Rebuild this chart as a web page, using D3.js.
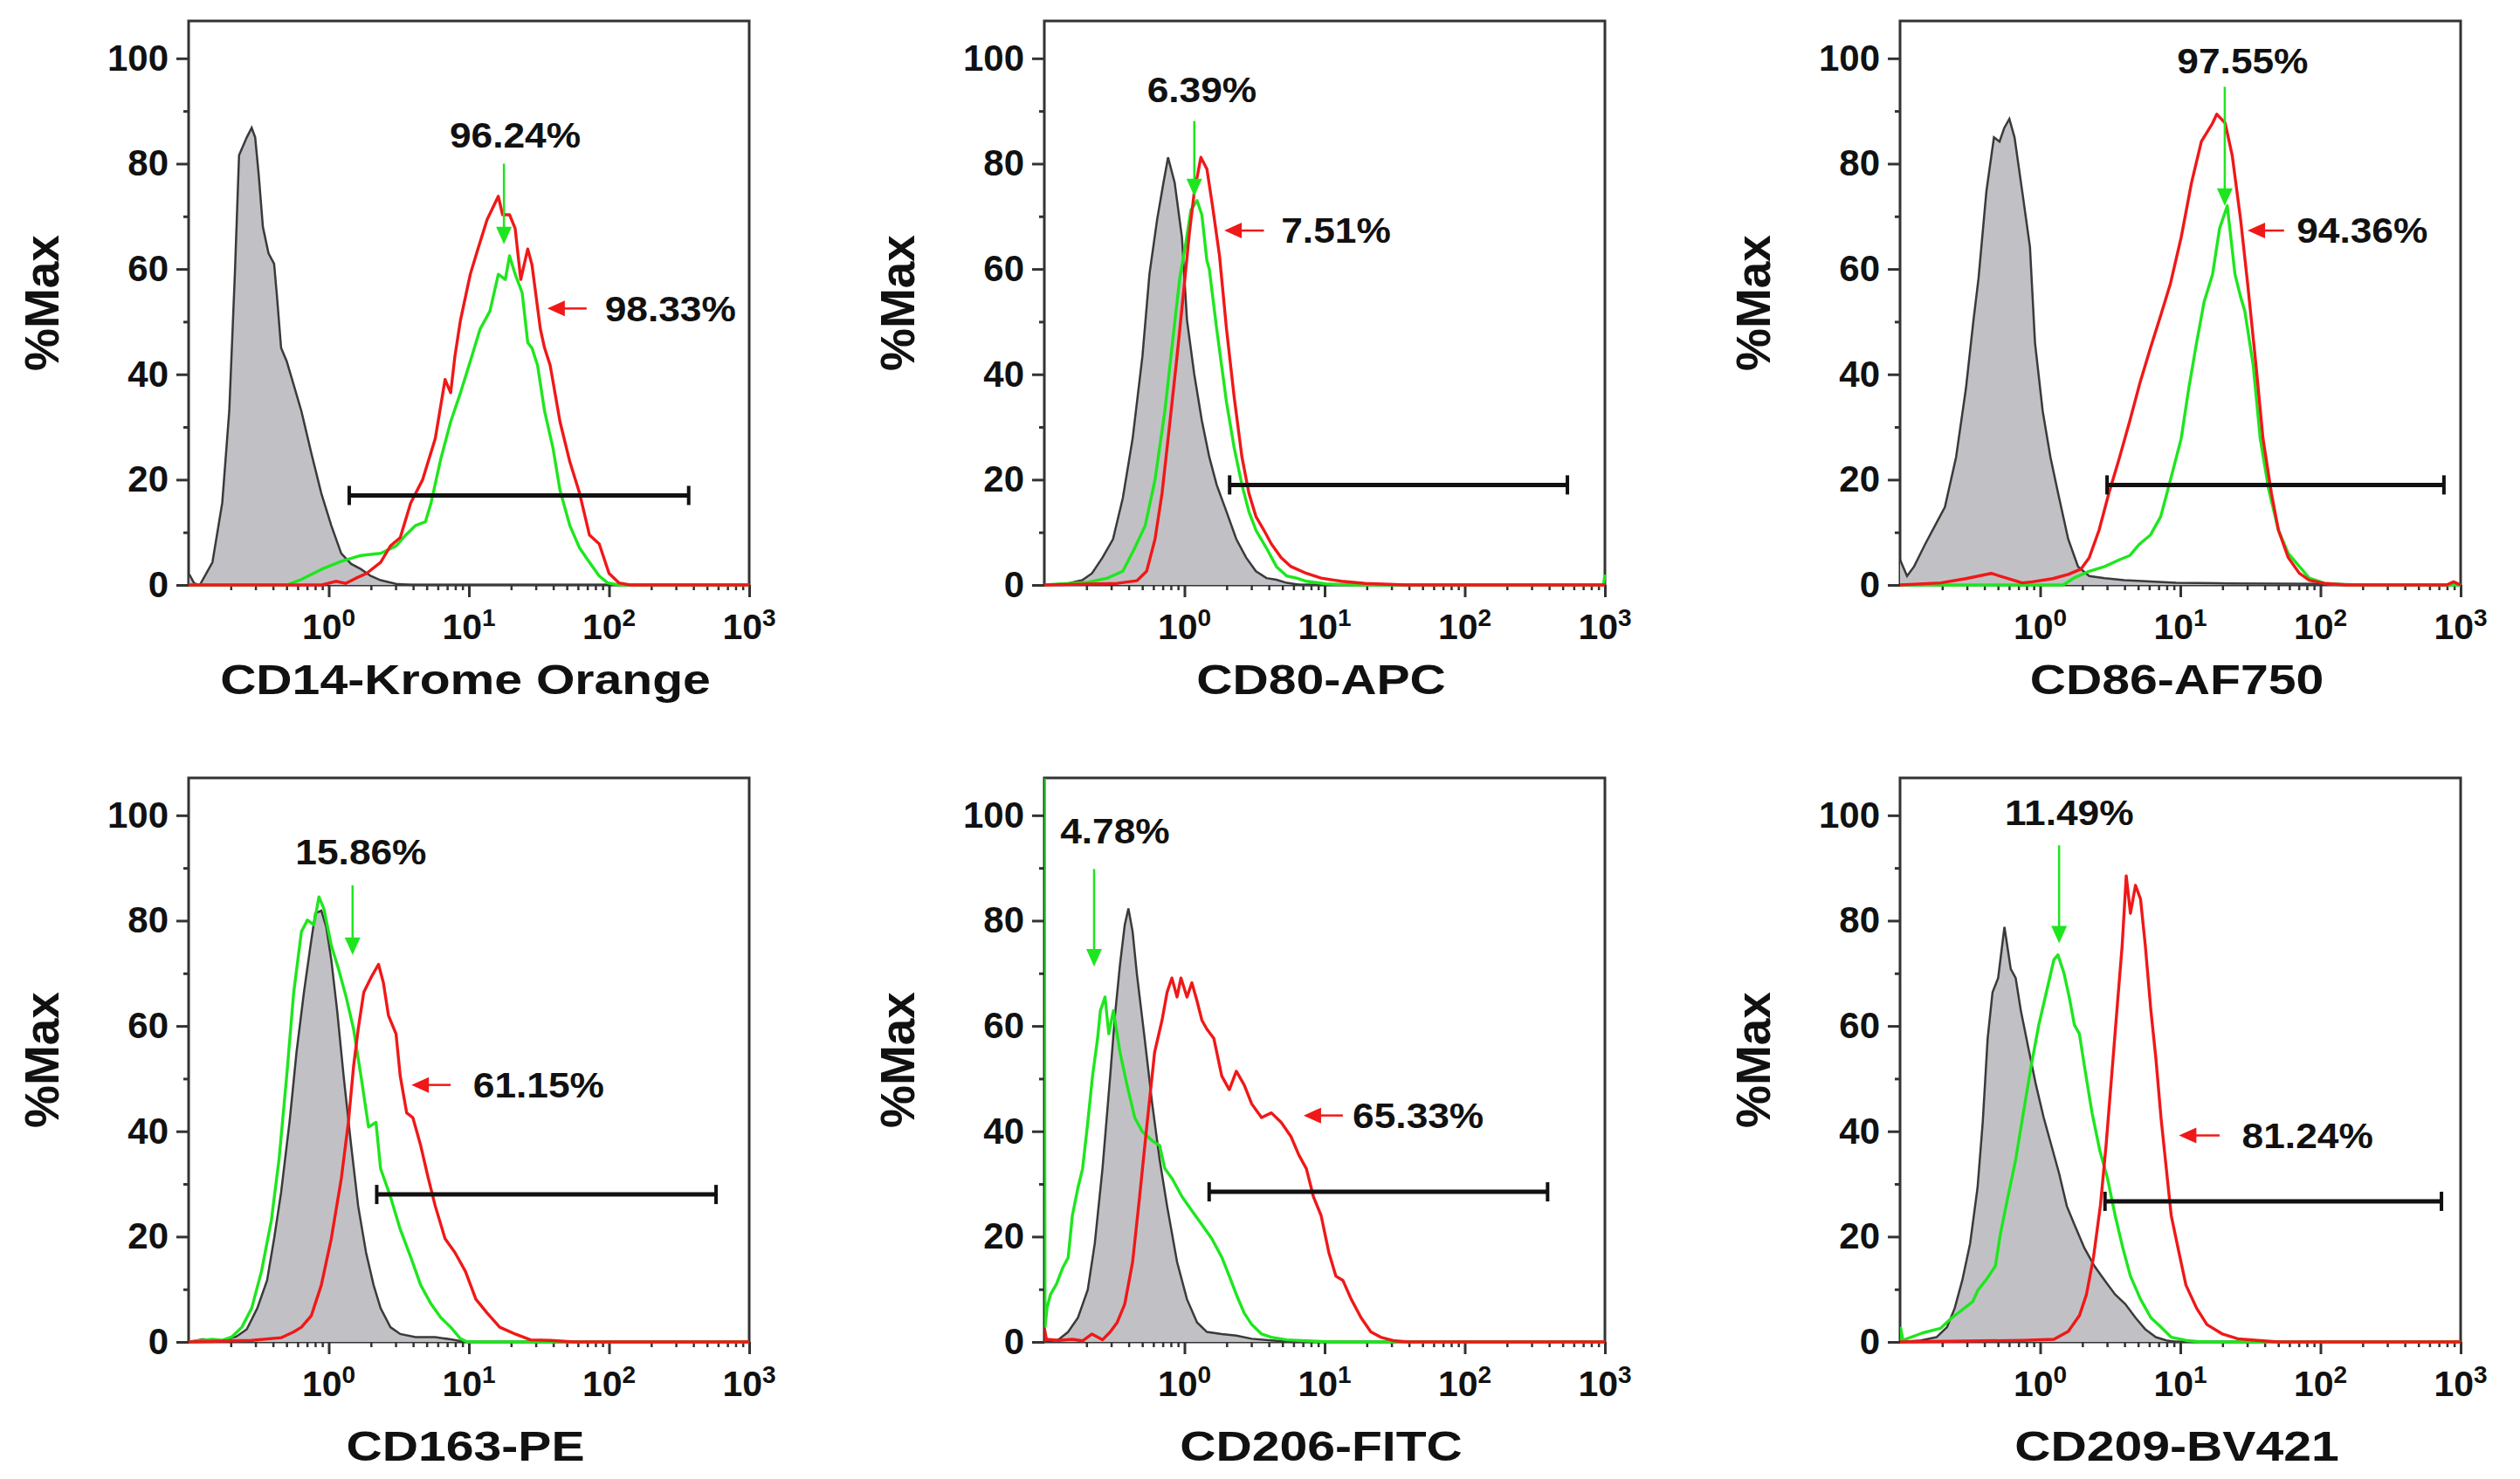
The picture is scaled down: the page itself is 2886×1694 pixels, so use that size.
<!DOCTYPE html>
<html><head><meta charset="utf-8">
<script src="https://cdn.jsdelivr.net/npm/d3@7"></script>
<style>
body{margin:0;background:#fff;}
svg text{font-family:"Liberation Sans",Arial,sans-serif;font-weight:bold;fill:#111;}
</style></head><body>
<svg id="c" width="2886" height="1694"></svg>
<script>
// ---------- categories / labels ----------
const panelTitles = ["CD14-Krome Orange","CD80-APC","CD86-AF750","CD163-PE","CD206-FITC","CD209-BV421"];
const yAxisTitle = "%Max";
const xTickValues = [1,10,100,1000];
const xTickExponents = ["0","1","2","3"];
const xMinorTicks = [0.2,0.3,0.4,0.5,0.6,0.7,0.8,0.9,2,3,4,5,6,7,8,9,20,30,40,50,60,70,80,90,200,300,400,500,600,700,800,900];
const yTickValues = [0,20,40,60,80,100];
const yMinorTicks = [10,30,50,70,90];
const greenLabels = ["96.24%","6.39%","97.55%","15.86%","4.78%","11.49%"];
const redLabels = ["98.33%","7.51%","94.36%","61.15%","65.33%","81.24%"];

// ---------- histogram series: [log10 intensity, %Max] ----------
const cd14Gray = [[-0.995,2],[-0.96,0.3],[-0.92,0],[-0.83,4.3],[-0.76,15.6],[-0.71,33],[-0.67,59],[-0.64,81.6],[-0.585,85],[-0.55,86.8],[-0.525,85],[-0.5,78],[-0.47,68],[-0.43,63],[-0.39,61],[-0.37,55],[-0.34,45],[-0.3,42.5],[-0.25,38],[-0.195,33],[-0.124,25],[-0.053,17.4],[0.018,11.3],[0.089,6],[0.16,4],[0.23,3],[0.3,1.7],[0.37,0.9],[0.48,0.2],[0.585,0],[3,0]];
const cd14Green = [[-1,0],[-0.3,0],[-0.2,1],[-0.05,3],[0.09,4.5],[0.23,5.6],[0.37,6],[0.48,7.4],[0.55,9.5],[0.62,11.3],[0.69,12],[0.73,15.6],[0.8,24],[0.87,31],[0.94,36.5],[1.01,42.5],[1.08,48.6],[1.15,52],[1.21,59],[1.26,58],[1.29,62.5],[1.33,59],[1.38,55.5],[1.42,46],[1.45,45],[1.49,41.7],[1.54,33],[1.6,26],[1.65,18],[1.72,11.3],[1.79,7],[1.86,4.3],[1.93,1.7],[1.99,0.4],[2.07,0],[3,0]];
const cd14Red = [[-1,0],[-0.05,0],[0.05,0.7],[0.12,0.3],[0.195,1.3],[0.27,2.2],[0.37,4.3],[0.44,7.4],[0.51,9],[0.585,15.6],[0.67,20],[0.76,27.8],[0.83,39],[0.87,36.5],[0.9,43.4],[0.94,50.3],[1.01,59],[1.06,63.4],[1.13,69.4],[1.21,73.8],[1.24,70.3],[1.29,70.3],[1.33,67.7],[1.37,58],[1.42,63.8],[1.45,60.8],[1.51,48.6],[1.54,45],[1.58,41.7],[1.65,31],[1.72,23.4],[1.79,17.4],[1.86,9.5],[1.93,7.8],[2.0,2.2],[2.07,0.4],[2.15,0],[3,0]];

const cd80Gray = [[-1,0],[-0.83,0.3],[-0.73,0.9],[-0.66,2.2],[-0.585,5.2],[-0.51,8.7],[-0.44,16.5],[-0.37,27.8],[-0.3,43.4],[-0.25,59],[-0.195,69.4],[-0.15,76.4],[-0.117,81.2],[-0.07,76.4],[-0.018,66],[0.018,50.3],[0.07,40],[0.124,31.2],[0.177,24.3],[0.23,19],[0.3,13.9],[0.37,8.7],[0.44,5.2],[0.51,2.6],[0.585,1.3],[0.656,1],[0.73,0.4],[0.83,0],[3,0]];
const cd80Green = [[-1,0],[-0.69,0.5],[-0.55,1.3],[-0.44,2.6],[-0.355,7],[-0.28,11.3],[-0.21,20],[-0.14,33],[-0.09,45],[-0.035,58],[0.01,65],[0.046,71.2],[0.09,73],[0.124,70.3],[0.16,61.6],[0.177,60],[0.23,48.6],[0.3,34.7],[0.355,26],[0.41,19],[0.46,13.9],[0.51,10.4],[0.585,7],[0.656,3.5],[0.73,1.7],[0.8,1.3],[0.87,0.7],[1.01,0.2],[1.22,0],[2.99,0],[3,2]];
const cd80Red = [[-1,0],[-0.48,0.3],[-0.34,0.8],[-0.27,2.6],[-0.21,8.7],[-0.16,17.4],[-0.106,30.4],[-0.053,43.4],[0,57.3],[0.035,66.8],[0.07,74.6],[0.117,81.2],[0.16,79],[0.2,72],[0.25,62.5],[0.3,48.6],[0.355,35.6],[0.41,24.3],[0.46,17.4],[0.51,13],[0.567,10.4],[0.62,7.8],[0.69,5.2],[0.76,3.5],[0.87,2.2],[0.975,1.3],[1.12,0.7],[1.29,0.3],[1.58,0],[3,0]];

const cd86Gray = [[-1,4.8],[-0.95,1.7],[-0.9,3.5],[-0.82,7.8],[-0.75,11.3],[-0.68,14.8],[-0.6,24.3],[-0.53,37.3],[-0.476,50.3],[-0.44,58.2],[-0.384,74.7],[-0.33,85],[-0.29,84.2],[-0.256,86.8],[-0.22,88.5],[-0.183,85],[-0.128,74.7],[-0.073,64.2],[-0.037,46],[0.018,33],[0.073,24.3],[0.128,17.4],[0.2,8.7],[0.27,3.5],[0.35,1.7],[0.46,1.3],[0.6,0.9],[0.97,0.4],[1.34,0.3],[2.07,0.2],[2.5,0],[3,0]];
const cd86Green = [[-1,0],[0.165,0],[0.24,1.3],[0.35,2.6],[0.46,3.5],[0.567,4.8],[0.64,5.6],[0.71,7.8],[0.787,9.5],[0.86,13],[0.93,20],[1.006,27.8],[1.06,37.3],[1.116,46],[1.17,53.8],[1.23,59],[1.28,67.7],[1.335,72],[1.39,59],[1.43,54.7],[1.46,52],[1.52,41.7],[1.57,27.8],[1.63,18.2],[1.7,10.4],[1.77,6],[1.85,3.5],[1.92,1.3],[2.03,0.3],[2.2,0],[3,0]];
const cd86Red = [[-1,0],[-0.71,0.4],[-0.53,1.2],[-0.35,2.2],[-0.24,1.3],[-0.128,0.4],[-0.055,0.6],[0.09,1.2],[0.2,2],[0.29,3],[0.35,5.2],[0.42,10.4],[0.49,17.4],[0.567,24.3],[0.64,31.2],[0.71,38.2],[0.787,45],[0.86,51.2],[0.93,57.3],[1.006,66],[1.08,76.4],[1.15,84.2],[1.23,87.7],[1.26,89.4],[1.32,87.7],[1.37,81.6],[1.43,69.4],[1.48,57.3],[1.54,41.7],[1.59,27.8],[1.65,17.4],[1.7,10.4],[1.77,5.2],[1.85,2.2],[1.92,0.9],[2.03,0.3],[2.18,0],[2.9,0],[2.95,0.6],[3,0]];

const cd163Gray = [[-1,0],[-0.9,0.5],[-0.76,0.3],[-0.66,1],[-0.585,2.4],[-0.51,6.4],[-0.44,11.7],[-0.39,19.6],[-0.34,28.4],[-0.28,41.7],[-0.23,55],[-0.177,66.4],[-0.13,75.3],[-0.096,81.4],[-0.053,81.9],[-0.018,78.8],[0.018,72.6],[0.06,62.9],[0.106,50.5],[0.16,37.3],[0.21,25.8],[0.266,17],[0.32,10.8],[0.37,6.4],[0.44,2.8],[0.51,1.5],[0.62,0.9],[0.76,0.9],[0.87,0.5],[0.975,0],[3,0]];
const cd163Green = [[-1,0],[-0.83,0.5],[-0.76,0.3],[-0.69,1],[-0.62,2.8],[-0.55,6.4],[-0.48,13.4],[-0.41,23],[-0.355,34.6],[-0.3,50.5],[-0.25,66.4],[-0.195,77.9],[-0.152,80.1],[-0.106,79.2],[-0.07,84.5],[-0.035,82.3],[0.018,75.3],[0.07,70.8],[0.124,65.5],[0.177,59.4],[0.23,50.5],[0.284,40.8],[0.337,41.7],[0.37,32.9],[0.44,27.6],[0.51,21.4],[0.585,16.1],[0.656,10.8],[0.73,7.2],[0.8,4.6],[0.87,2.8],[0.94,0.6],[0.99,0],[3,0]];
const cd163Red = [[-1,0],[-0.55,0.3],[-0.34,0.8],[-0.25,1.9],[-0.195,2.8],[-0.124,5],[-0.053,10.8],[0.018,19.6],[0.09,31.1],[0.14,41.7],[0.177,52.3],[0.21,59.4],[0.25,66.4],[0.3,69.1],[0.355,71.7],[0.39,68.2],[0.426,62],[0.48,58.5],[0.51,50.5],[0.556,43.5],[0.6,42.6],[0.656,37.3],[0.71,31.1],[0.76,25.8],[0.83,19.6],[0.9,17],[0.975,13.4],[1.05,8.1],[1.13,5.5],[1.22,2.8],[1.33,1.5],[1.44,0.4],[1.58,0.3],[1.75,0],[3,0]];

const cd206Gray = [[-1,0],[-0.9,0.4],[-0.83,1.9],[-0.76,4.6],[-0.69,9.9],[-0.64,18.7],[-0.585,32.9],[-0.53,50.5],[-0.496,62],[-0.46,71.7],[-0.426,79.2],[-0.4,82.3],[-0.37,77.9],[-0.34,70],[-0.284,57.6],[-0.23,45.2],[-0.177,34.6],[-0.124,25.8],[-0.053,15.2],[0.018,8.1],[0.09,3.7],[0.16,1.9],[0.266,1.5],[0.37,1.2],[0.48,0.6],[0.62,0.3],[0.76,0],[3,0]];
const cd206Green = [[-1,107],[-0.995,2.8],[-0.98,6.6],[-0.956,9],[-0.913,11],[-0.87,14],[-0.83,16],[-0.8,24],[-0.76,29.3],[-0.727,32.9],[-0.69,41.7],[-0.656,50.5],[-0.62,57.6],[-0.6,62.9],[-0.567,65.5],[-0.54,58.5],[-0.507,62.9],[-0.46,55],[-0.41,48.8],[-0.355,42.6],[-0.3,39.9],[-0.23,38.2],[-0.177,37.3],[-0.14,32.9],[-0.09,31.1],[-0.018,27.6],[0.053,24.9],[0.124,22.3],[0.195,19.6],[0.266,16.1],[0.32,12.5],[0.37,9],[0.426,5.5],[0.48,3.3],[0.55,1.5],[0.62,0.9],[0.73,0.4],[0.87,0.2],[1.05,0],[3,0]];
const cd206Red = [[-1,0],[-0.998,2.4],[-0.985,0.5],[-0.9,0.3],[-0.8,0.5],[-0.727,0.2],[-0.66,1.5],[-0.585,0.4],[-0.53,1.9],[-0.48,3.7],[-0.426,7.2],[-0.37,15.2],[-0.32,27.6],[-0.266,41.7],[-0.213,55],[-0.16,61.1],[-0.124,66.4],[-0.09,69.1],[-0.053,65.5],[-0.025,69.1],[0.018,65.5],[0.053,68.2],[0.09,64.7],[0.124,61.1],[0.16,59.4],[0.21,57.6],[0.266,50.5],[0.32,47.9],[0.37,51.4],[0.426,48.8],[0.48,45.2],[0.55,42.6],[0.62,43.5],[0.69,41.7],[0.76,39],[0.816,35.5],[0.87,32.9],[0.92,27.6],[0.975,24],[1.03,17],[1.08,12.5],[1.13,11.7],[1.19,8.1],[1.26,4.6],[1.33,1.9],[1.4,0.9],[1.5,0.2],[1.6,0],[3,0]];

const cd209Gray = [[-1,0],[-0.85,0.3],[-0.74,0.9],[-0.665,2.8],[-0.61,6.4],[-0.556,11.7],[-0.5,18.7],[-0.447,29.3],[-0.41,41.7],[-0.375,57.6],[-0.34,66.4],[-0.3,69.1],[-0.255,78.8],[-0.21,70.8],[-0.175,69.1],[-0.138,62.9],[-0.084,55.8],[-0.03,48.8],[0.025,42.6],[0.08,37.3],[0.135,32],[0.19,25.8],[0.244,22.3],[0.316,17.8],[0.39,14.3],[0.46,11.7],[0.535,9],[0.607,7.2],[0.68,4.6],[0.75,2.4],[0.825,0.9],[0.9,0.3],[0.97,0],[3,0]];
const cd209Green = [[-1,0],[-0.995,2.6],[-0.98,0.3],[-0.84,1.7],[-0.71,2.6],[-0.63,4.6],[-0.57,5.8],[-0.48,7.7],[-0.445,9.8],[-0.38,12],[-0.32,14.4],[-0.284,20.5],[-0.23,27.6],[-0.175,34.6],[-0.12,43.5],[-0.065,52.3],[-0.01,60.2],[0.044,66.4],[0.098,72.6],[0.127,73.5],[0.17,70],[0.207,65.5],[0.244,60.2],[0.28,58.5],[0.316,52.3],[0.37,43.5],[0.425,36.4],[0.48,31.1],[0.535,24],[0.59,17.8],[0.644,12.5],[0.716,8.1],[0.79,4.6],[0.862,2.8],[0.935,0.9],[1.04,0.3],[1.15,0],[3,0]];
const cd209Red = [[-1,0],[-0.12,0.3],[0.098,0.5],[0.2,2],[0.28,5],[0.33,9],[0.38,16],[0.43,26],[0.47,37.3],[0.51,50.5],[0.55,63.8],[0.585,75.3],[0.614,88.5],[0.644,81.4],[0.68,86.7],[0.716,84.1],[0.75,75.3],[0.79,62.9],[0.825,54],[0.862,42.6],[0.9,32.9],[0.935,24],[0.99,17],[1.04,10.8],[1.116,6.4],[1.19,3.3],[1.3,1.5],[1.41,0.6],[1.55,0.3],[1.7,0],[3,0]];

// ---------- gates and annotations ----------
const gateRanges = [[1.4,370],[2.1,540],[3.0,760],[2.2,580],[1.5,390],[2.9,730]];
const gateLevels = [17,19,19,28,28.5,26.7];
const greenArrowX = [1.25,0.07,1.317,0.17,-0.645,0.135];      // log10
const greenArrowTop = [80,88.1,94.6,86.7,89.8,94.3];
const greenArrowTip = [64.7,73.8,72,73.5,71.3,75.7];
const greenLabelX = [1.33,0.124,1.445,0.23,-0.496,0.207];      // log10, centre
const greenLabelY = [83,91.6,97.2,90.7,94.7,98.2];
const redArrowY = [52.5,67.3,67.3,48.8,43,39.2];
const redArrowFrom = [1.84,0.567,1.74,0.87,1.13,1.28];
const redArrowTip = [1.56,0.284,1.48,0.59,0.85,0.99];
const redLabelX = [1.97,0.69,1.83,1.03,1.2,1.44];

const grays = [cd14Gray,cd80Gray,cd86Gray,cd163Gray,cd206Gray,cd209Gray];
const greens = [cd14Green,cd80Green,cd86Green,cd163Green,cd206Green,cd209Green];
const reds = [cd14Red,cd80Red,cd86Red,cd163Red,cd206Red,cd209Red];

// ---------- layout ----------
const colLefts = [216,1196,2176], rowTops = [24,891];
const W = 642, H = 646;
const titleOffsets = [125,136];
const GREEN = "#1ee61e", RED = "#f01818", GRAYFILL = "#c1c1c5", GRAYLINE = "#3a3a3a", AXIS = "#333";

const svg = d3.select("#c");
const defs = svg.append("defs");

panelTitles.forEach((title,i)=>{
  const col = i%3, row = Math.floor(i/3);
  const L = colLefts[col], T = rowTops[row], B = T+H, R = L+W;
  const x = d3.scaleLog().domain([0.1,1000]).range([L,R]);
  const y = d3.scaleLinear().domain([0,107.1]).range([B,T]);
  const X = e => x(Math.pow(10,e));
  const g = svg.append("g");
  defs.append("clipPath").attr("id","clip"+i).append("rect").attr("x",L).attr("y",T).attr("width",W+2).attr("height",H+2);

  // frame
  g.append("rect").attr("x",L).attr("y",T).attr("width",W).attr("height",H)
    .attr("fill","none").attr("stroke",AXIS).attr("stroke-width",3);

  // y axis
  const ya = g.append("g").attr("transform",`translate(${L},0)`)
    .call(d3.axisLeft(y).tickValues(yTickValues).tickSize(14).tickPadding(9));
  ya.select(".domain").remove();
  ya.selectAll("line").attr("stroke",AXIS).attr("stroke-width",3);
  ya.selectAll("text").style("font-size","42px").attr("fill","#111");
  const yb = g.append("g").attr("transform",`translate(${L},0)`)
    .call(d3.axisLeft(y).tickValues(yMinorTicks).tickSize(6).tickFormat(""));
  yb.select(".domain").remove();
  yb.selectAll("line").attr("stroke",AXIS).attr("stroke-width",3);

  // x axis
  const xa = g.append("g").attr("transform",`translate(0,${B})`)
    .call(d3.axisBottom(x).tickValues(xTickValues).tickSize(14).tickFormat(""));
  xa.select(".domain").remove();
  xa.selectAll("line").attr("stroke",AXIS).attr("stroke-width",3);
  const xb = g.append("g").attr("transform",`translate(0,${B})`)
    .call(d3.axisBottom(x).tickValues(xMinorTicks).tickSize(6).tickFormat(""));
  xb.select(".domain").remove();
  xb.selectAll("line").attr("stroke",AXIS).attr("stroke-width",2.5);
  xTickValues.forEach((v,k)=>{
    const t = g.append("text").attr("x",x(v)).attr("y",B+62).attr("text-anchor","middle").style("font-size","41px");
    t.append("tspan").text("10");
    t.append("tspan").attr("dy",-15).style("font-size","28px").text(xTickExponents[k]);
  });

  // titles
  g.append("text").attr("transform",`translate(${L+W/2-4},${B+titleOffsets[row]}) scale(1.19,1)`)
    .attr("text-anchor","middle").style("font-size","48px").text(title);
  g.append("text").attr("transform",`translate(${L-168},${T+H/2}) rotate(-90)`)
    .attr("text-anchor","middle").attr("dominant-baseline","central").style("font-size","55px").text(yAxisTitle);

  // histograms
  const cg = g.append("g").attr("clip-path",`url(#clip${i})`);
  cg.append("path").datum(grays[i])
    .attr("d",d3.area().x(d=>X(d[0])).y0(B).y1(d=>y(d[1])))
    .attr("fill",GRAYFILL);
  const line = d3.line().x(d=>X(d[0])).y(d=>y(d[1]));
  cg.append("path").datum(grays[i]).attr("d",line).attr("fill","none").attr("stroke",GRAYLINE).attr("stroke-width",2.5);
  cg.append("path").datum(greens[i]).attr("d",line).attr("fill","none").attr("stroke",GREEN).attr("stroke-width",3.4).attr("stroke-linejoin","round");
  cg.append("path").datum(reds[i]).attr("d",line).attr("fill","none").attr("stroke",RED).attr("stroke-width",3.4).attr("stroke-linejoin","round");

  // gate
  const gx1 = x(gateRanges[i][0]), gx2 = x(gateRanges[i][1]), gy = y(gateLevels[i]);
  g.append("line").attr("x1",gx1).attr("x2",gx2).attr("y1",gy).attr("y2",gy).attr("stroke","#111").attr("stroke-width",5);
  [gx1,gx2].forEach(px=>g.append("line").attr("x1",px).attr("x2",px).attr("y1",gy-11).attr("y2",gy+11).attr("stroke","#111").attr("stroke-width",4));

  // green arrow (down)
  const ax = X(greenArrowX[i]), at = y(greenArrowTop[i]), ap = y(greenArrowTip[i]);
  g.append("line").attr("x1",ax).attr("x2",ax).attr("y1",at).attr("y2",ap-14).attr("stroke",GREEN).attr("stroke-width",2.5);
  g.append("path").attr("d",`M${ax-9},${ap-20}L${ax+9},${ap-20}L${ax},${ap}Z`).attr("fill",GREEN);
  g.append("text").attr("transform",`translate(${X(greenLabelX[i])},${y(greenLabelY[i])}) scale(1.08,1)`)
    .attr("text-anchor","middle").style("font-size","41px").text(greenLabels[i]);

  // red arrow (left)
  const rx1 = X(redArrowFrom[i]), rx2 = X(redArrowTip[i]), ry = y(redArrowY[i]);
  g.append("line").attr("x1",rx1).attr("x2",rx2+14).attr("y1",ry).attr("y2",ry).attr("stroke",RED).attr("stroke-width",2.5);
  g.append("path").attr("d",`M${rx2+20},${ry-9}L${rx2+20},${ry+9}L${rx2},${ry}Z`).attr("fill",RED);
  g.append("text").attr("transform",`translate(${X(redLabelX[i])},${ry}) scale(1.08,1)`)
    .attr("dominant-baseline","central").style("font-size","41px").text(redLabels[i]);
});
</script>
</body></html>
